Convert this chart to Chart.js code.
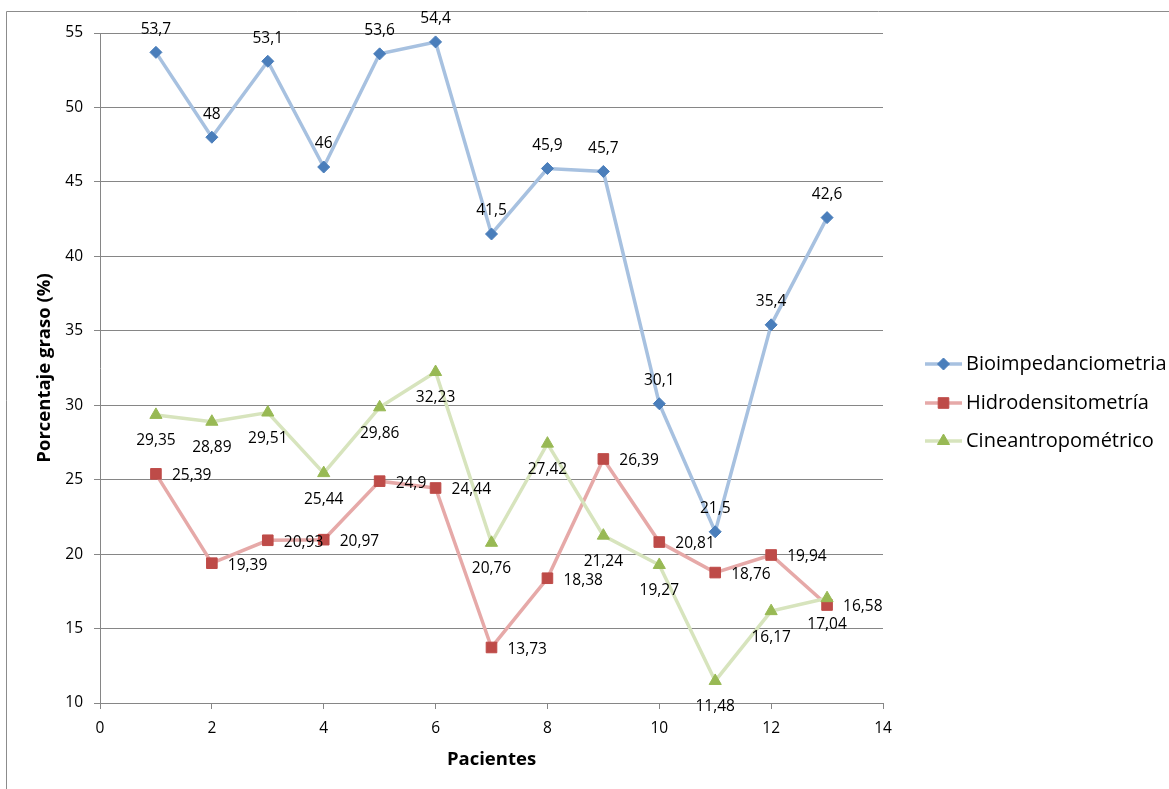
<!DOCTYPE html>
<html>
<head>
<meta charset="utf-8">
<script src="https://cdn.jsdelivr.net/npm/chart.js@4.4.1/dist/chart.umd.min.js"></script>
<style>
  html, body { margin: 0; padding: 0; background: #ffffff; }
  #wrap { width: 1169px; height: 789px; position: relative; }
</style>
</head>
<body>
<div id="wrap"><canvas id="chart" width="1169" height="789"></canvas></div>
<script>
// Patient numbers on the x axis
const pacientes = [1, 2, 3, 4, 5, 6, 7, 8, 9, 10, 11, 12, 13];

// Body-fat percentage per method
const bioimpedanciometria = [53.7, 48, 53.1, 46, 53.6, 54.4, 41.5, 45.9, 45.7, 30.1, 21.5, 35.4, 42.6];
const hidrodensitometria  = [25.39, 19.39, 20.93, 20.97, 24.9, 24.44, 13.73, 18.38, 26.39, 20.81, 18.76, 19.94, 16.58];
const cineantropometrico  = [29.35, 28.89, 29.51, 25.44, 29.86, 32.23, 20.76, 27.42, 21.24, 19.27, 11.48, 16.17, 17.04];

const seriesNames = ['Bioimpedanciometria', 'Hidrodensitometría', 'Cineantropométrico'];

// Axis settings
const xTicks = { min: 0, max: 14, step: 2 };
const yTicks = { min: 10, max: 55, step: 5 };
const xTitle = 'Pacientes';
const yTitle = 'Porcentaje graso (%)';

const FONT = '"Open Sans", "Liberation Sans", sans-serif';
const GRID = '#868686';

const toPoints = (vals) => vals.map((v, i) => ({ x: pacientes[i], y: v }));
const fmt = (v) => String(v).replace('.', ',');

const styles = [
  { line: 'rgba(167,193,224,1)', point: '#4a7ebb', shape: 'rectRot', radius: 6, label: 'above', order: 3 },
  { line: 'rgba(230,169,168,1)', point: '#be4b48', shape: 'rect', radius: 7.5, label: 'right', order: 2 },
  { line: 'rgba(215,228,189,1)', point: '#98b954', shape: 'triangle', radius: 7, label: 'below', order: 1 }
];

const allValues = [bioimpedanciometria, hidrodensitometria, cineantropometrico];

const datasets = allValues.map((vals, i) => ({
  label: seriesNames[i],
  data: toPoints(vals),
  borderColor: styles[i].line,
  borderWidth: 3.5,
  backgroundColor: styles[i].point,
  pointBackgroundColor: styles[i].point,
  pointBorderColor: styles[i].point,
  pointBorderWidth: 1,
  pointStyle: styles[i].shape,
  pointRadius: styles[i].radius,
  tension: 0,
  order: styles[i].order,
  labelPos: styles[i].label
}));

// Value labels next to each marker
const valueLabels = {
  id: 'valueLabels',
  afterDatasetsDraw(chart) {
    const ctx = chart.ctx;
    ctx.save();
    ctx.font = '15.5px ' + FONT;
    ctx.fillStyle = '#000000';
    chart.data.datasets.forEach((ds, di) => {
      const meta = chart.getDatasetMeta(di);
      meta.data.forEach((pt, i) => {
        const txt = fmt(ds.data[i].y);
        if (ds.labelPos === 'above') {
          ctx.textAlign = 'center'; ctx.textBaseline = 'middle';
          ctx.fillText(txt, pt.x, pt.y - 23);
        } else if (ds.labelPos === 'right') {
          ctx.textAlign = 'left'; ctx.textBaseline = 'middle';
          ctx.fillText(txt, pt.x + 16, pt.y + 2);
        } else {
          ctx.textAlign = 'center'; ctx.textBaseline = 'middle';
          ctx.fillText(txt, pt.x, pt.y + 26);
        }
      });
    });
    ctx.restore();
  }
};

// Legend on the right: short line with the series marker, then the name
const sideLegend = {
  id: 'sideLegend',
  afterDraw(chart) {
    const ctx = chart.ctx;
    const rows = [364, 403, 441];
    ctx.save();
    chart.data.datasets.forEach((ds, i) => {
      const y = rows[i];
      ctx.strokeStyle = ds.borderColor;
      ctx.lineWidth = 3.5;
      ctx.beginPath();
      ctx.moveTo(925, y);
      ctx.lineTo(962, y);
      ctx.stroke();
      ctx.fillStyle = ds.pointBackgroundColor;
      ctx.strokeStyle = ds.pointBorderColor;
      ctx.lineWidth = 1;
      Chart.helpers.drawPoint(ctx, { pointStyle: ds.pointStyle, radius: ds.pointRadius, borderWidth: 1, rotation: 0 }, 943.5, y);
      ctx.fillStyle = '#000000';
      ctx.font = '20px ' + FONT;
      ctx.textAlign = 'left';
      ctx.textBaseline = 'middle';
      ctx.fillText(ds.label, 966, y);
    });
    ctx.restore();
  }
};

// Thin frame around the chart (top and left edges)
const frame = {
  id: 'frame',
  beforeDraw(chart) {
    const ctx = chart.ctx;
    ctx.save();
    ctx.fillStyle = '#ffffff';
    ctx.fillRect(0, 0, chart.width, chart.height);
    ctx.strokeStyle = '#8c8c8c';
    ctx.lineWidth = 1;
    ctx.beginPath();
    ctx.moveTo(6.5, chart.height);
    ctx.lineTo(6.5, 11.5);
    ctx.lineTo(chart.width, 11.5);
    ctx.stroke();
    ctx.restore();
  }
};

new Chart(document.getElementById('chart'), {
  type: 'line',
  data: { datasets },
  plugins: [frame, valueLabels, sideLegend],
  options: {
    responsive: false,
    animation: false,
    events: [],
    layout: { padding: { left: 0, top: 33, right: 286, bottom: 0 } },
    plugins: {
      legend: { display: false },
      tooltip: { enabled: false }
    },
    scales: {
      x: {
        type: 'linear',
        min: xTicks.min,
        max: xTicks.max,
        ticks: { stepSize: xTicks.step, padding: 10, color: '#000000', font: { family: FONT, size: 15.5 } },
        grid: { drawOnChartArea: false, drawTicks: true, tickLength: 6, color: GRID },
        border: { display: true, color: GRID, width: 1 },
        title: { display: true, text: xTitle, color: '#000000', font: { family: FONT, size: 18.5, weight: 'bold' }, padding: { top: 0, bottom: 18 } },
        afterFit(scale) { scale.height = 86; }
      },
      y: {
        type: 'linear',
        min: yTicks.min,
        max: yTicks.max,
        ticks: { stepSize: yTicks.step, padding: 11, color: '#000000', font: { family: FONT, size: 15.5 } },
        grid: { drawOnChartArea: true, drawTicks: true, tickLength: 6, color: GRID },
        border: { display: true, color: GRID, width: 1 },
        title: { display: true, text: yTitle, color: '#000000', font: { family: FONT, size: 18.5, weight: 'bold' }, padding: { top: 34, bottom: 0 } },
        afterFit(scale) { scale.width = 100; }
      }
    }
  }
});
</script>
</body>
</html>
